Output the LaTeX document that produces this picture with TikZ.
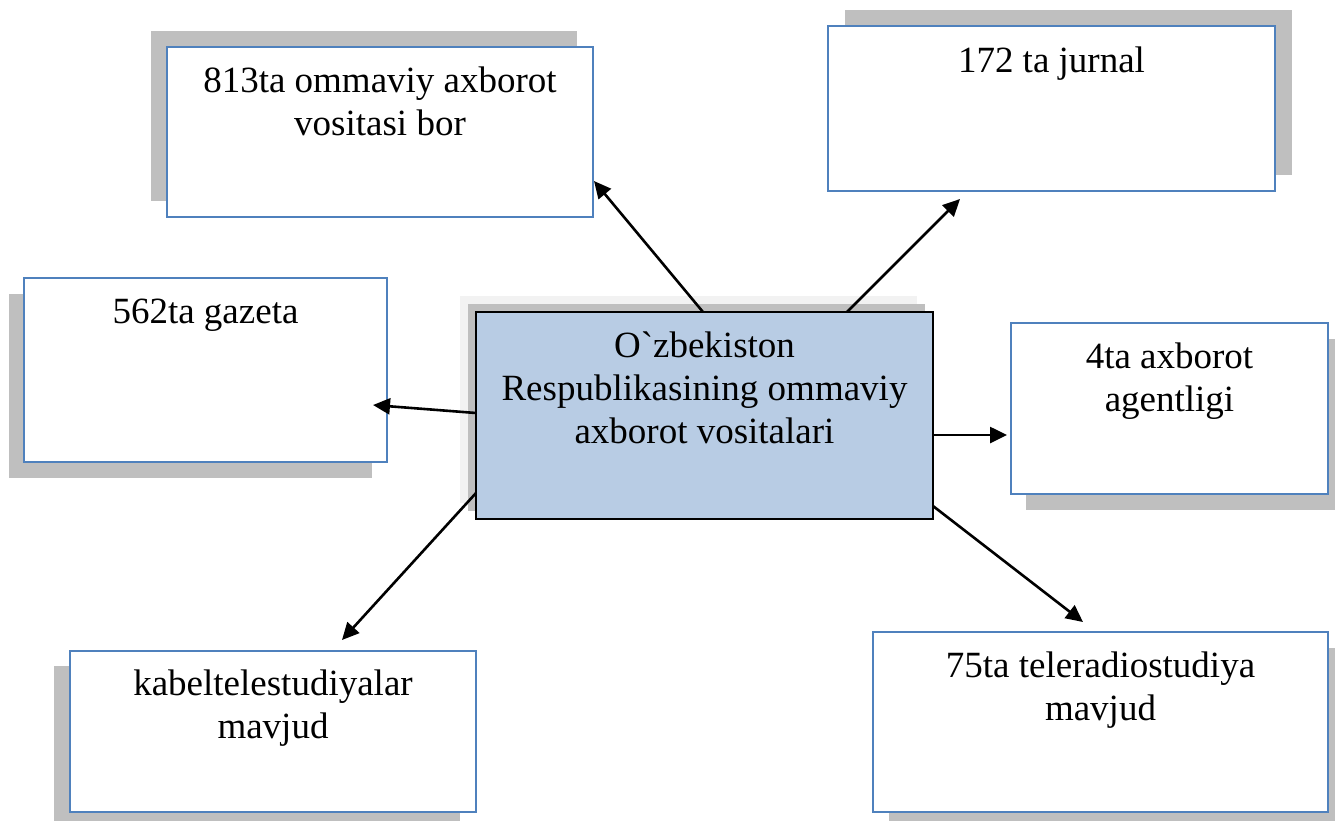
\documentclass[tikz,border=0pt]{standalone}
\usepackage{fontspec}
\setmainfont{Liberation Serif}
\usetikzlibrary{arrows.meta,shadows}
\definecolor{shadowgray}{HTML}{BFBFBF}
\definecolor{shadowlight}{HTML}{F2F2F2}
\definecolor{boxblue}{HTML}{4F81BD}
\definecolor{centerfill}{HTML}{B8CCE4}
\newcommand{\boxtext}[1]{\parbox[t]{440pt}{\centering\fontsize{37}{43}\selectfont #1}}
\begin{document}
\begin{tikzpicture}[x=1pt,y=-1pt,
  sbox/.style 2 args={draw=boxblue, line width=1.3pt, fill=white, inner sep=0pt, outer sep=0pt,
    drop shadow={shadow xshift=#1pt, shadow yshift=#2pt, fill=shadowgray, opacity=1}},
  cbox/.style={draw=black, line width=1.8pt, fill=centerfill, inner sep=0pt, outer sep=0pt,
    drop shadow={shadow xshift=-16pt, shadow yshift=16pt, fill=shadowlight, opacity=1},
    drop shadow={shadow xshift=-8pt, shadow yshift=8pt, fill=shadowgray, opacity=1}},
  lbl/.style={anchor=base, inner sep=0pt, outer sep=0pt},
  arr/.style={-{Triangle[length=17pt,width=16pt]}, line width=2.6pt, black}]
\useasboundingbox (0,0) rectangle (1335,820);
% boxes
\node[sbox={-16}{16}, minimum width=426pt, minimum height=170pt] (b1) at (380,132) {};
\node[sbox={17}{16}, minimum width=447pt, minimum height=165pt] (b2) at (1051.5,108.5) {};
\node[sbox={-15}{-16}, minimum width=363pt, minimum height=184pt] (b3) at (205.5,370) {};
\node[cbox, minimum width=457pt, minimum height=207pt] (c) at (704.5,415.5) {};
\node[sbox={15}{-16}, minimum width=317pt, minimum height=171pt] (b5) at (1169.5,408.5) {};
\node[sbox={-16}{-15}, minimum width=406pt, minimum height=161pt] (b6) at (273,731.5) {};
\node[sbox={16}{-16}, minimum width=455pt, minimum height=180pt] (b7) at (1100.5,722) {};
% texts
\node[lbl] (t1) at ([yshift=-45pt]b1.north) {\boxtext{813ta ommaviy axborot\\vositasi bor}};
\node[lbl] (t2) at ([yshift=-46pt]b2.north) {\boxtext{172 ta jurnal}};
\node[lbl] (t3) at ([yshift=-45pt]b3.north) {\boxtext{562ta gazeta}};
\node[lbl] (tc) at ([yshift=-45pt]c.north) {\boxtext{O\textasciigrave zbekiston\\Respublikasining ommaviy\\axborot vositalari}};
\node[lbl] (t5) at ([yshift=-45pt]b5.north) {\boxtext{4ta axborot\\agentligi}};
\node[lbl] (t6) at ([yshift=-44pt]b6.north) {\boxtext{kabeltelestudiyalar\\mavjud}};
\node[lbl] (t7) at ([yshift=-45pt]b7.north) {\boxtext{75ta teleradiostudiya\\mavjud}};
% arrow tips
\coordinate (a1) at (594,181);
\coordinate (a2) at (960,199);
\coordinate (a3) at (373,405);
\coordinate (a4) at (1007,435);
\coordinate (a5) at (342,640);
\coordinate (a6) at (1083,622);
% arrows
\draw[arr] ([xshift=-1.5pt]c.north) -- (a1);
\draw[arr] ([xshift=142.5pt]c.north) -- (a2);
\draw[arr] ([yshift=2.5pt]c.west) -- (a3);
\draw[arr] ([yshift=-19.5pt]c.east) -- (a4);
\draw[arr] ([yshift=-77.5pt]c.west) -- (a5);
\draw[arr] ([yshift=-90.5pt]c.east) -- (a6);
\end{tikzpicture}
\end{document}
